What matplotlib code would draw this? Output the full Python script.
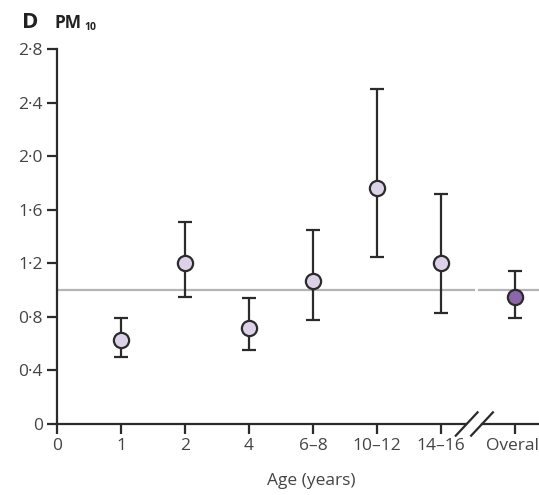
import matplotlib
matplotlib.use("Agg")
import matplotlib.pyplot as plt
import numpy as np

plt.rcParams['font.family'] = ['Open Sans', 'DejaVu Sans']

# data (PM10 estimates with 95% CI)
age_labels = ['1', '2', '4', '6–8', '10–12', '14–16']
est = [0.63, 1.20, 0.72, 1.07, 1.76, 1.20]
lo = [0.50, 0.95, 0.55, 0.78, 1.25, 0.83]
hi = [0.79, 1.51, 0.94, 1.45, 2.50, 1.72]
overall_est = 0.95
overall_lo = 0.79
overall_hi = 1.14

tick_labels = ['0'] + age_labels + ['Overall']
ytick_vals = [0, 0.4, 0.8, 1.2, 1.6, 2.0, 2.4, 2.8]

ink = '#2b2b2b'
light = '#dcd2e8'
dark = '#8c66aa'

fig = plt.figure(figsize=(5.39, 4.95), dpi=100)
ax = fig.add_axes([57 / 539, 71 / 495, 482 / 539, 375 / 495])

xs = np.arange(1, len(est) + 1)
x_over = 7.15
xmax = 7.53

# reference line at 1, broken near the axis break
ax.plot([0, 6.52], [1, 1], color='#b4b4b4', lw=1.6, zorder=1)
ax.plot([6.59, xmax], [1, 1], color='#b4b4b4', lw=1.6, zorder=1, clip_on=False)

est = np.array(est)
err = [est - np.array(lo), np.array(hi) - est]
ax.errorbar(xs, est, yerr=err, fmt='none', ecolor=ink, elinewidth=1.6,
            capsize=5, capthick=1.6, zorder=2)
ax.scatter(xs, est, s=120, color=light, edgecolor=ink, linewidth=1.6, zorder=3)

ax.errorbar([x_over], [overall_est],
            yerr=[[overall_est - overall_lo], [overall_hi - overall_est]],
            fmt='none', ecolor=ink, elinewidth=1.6, capsize=5, capthick=1.6, zorder=2)
ax.scatter([x_over], [overall_est], s=120, color=dark, edgecolor=ink,
           linewidth=1.6, zorder=3, clip_on=False)

ax.set_xlim(0, xmax)
ax.set_ylim(0, 2.8)
ax.set_xticks(list(range(0, 7)) + [x_over])
ax.set_xticklabels(tick_labels)
ax.set_yticks(ytick_vals)
ax.set_yticklabels([('%.1f' % v).replace('.', '·') if v else '0' for v in ytick_vals])

for s in ['top', 'right', 'bottom']:
    ax.spines[s].set_visible(False)
ax.spines['left'].set_color(ink)
ax.spines['left'].set_linewidth(1.6)
ax.tick_params(axis='both', colors=ink, labelcolor='#444444', length=7,
               width=1.6, labelsize=12.5, pad=3)

# bottom axis drawn in two pieces with a break
ax.plot([0, 6.39], [0, 0], color=ink, lw=1.6, clip_on=False, zorder=4)
ax.plot([6.64, xmax], [0, 0], color=ink, lw=1.6, clip_on=False, zorder=4)
for x0 in [6.23, 6.47]:
    ax.plot([x0, x0 + 0.34], [-0.087, 0.087], color=ink, lw=1.6,
            clip_on=False, zorder=4)

fig.text(311 / 539, 1 - 481 / 495, 'Age (years)', ha='center', va='center',
         fontsize=12.5, color='#444444')

fig.text(22 / 539, 1 - 22 / 495, 'D', ha='left', va='center',
         fontsize=16, fontweight='bold', color='#222222')
fig.text(55 / 539, 1 - 23 / 495, 'PM', ha='left', va='center',
         fontsize=12.5, fontweight='bold', color='#222222')
fig.text(84 / 539, 1 - 27 / 495, '10', ha='left', va='center',
         fontsize=7.5, fontweight='bold', color='#222222')

fig.savefig('out.png', dpi=100)
